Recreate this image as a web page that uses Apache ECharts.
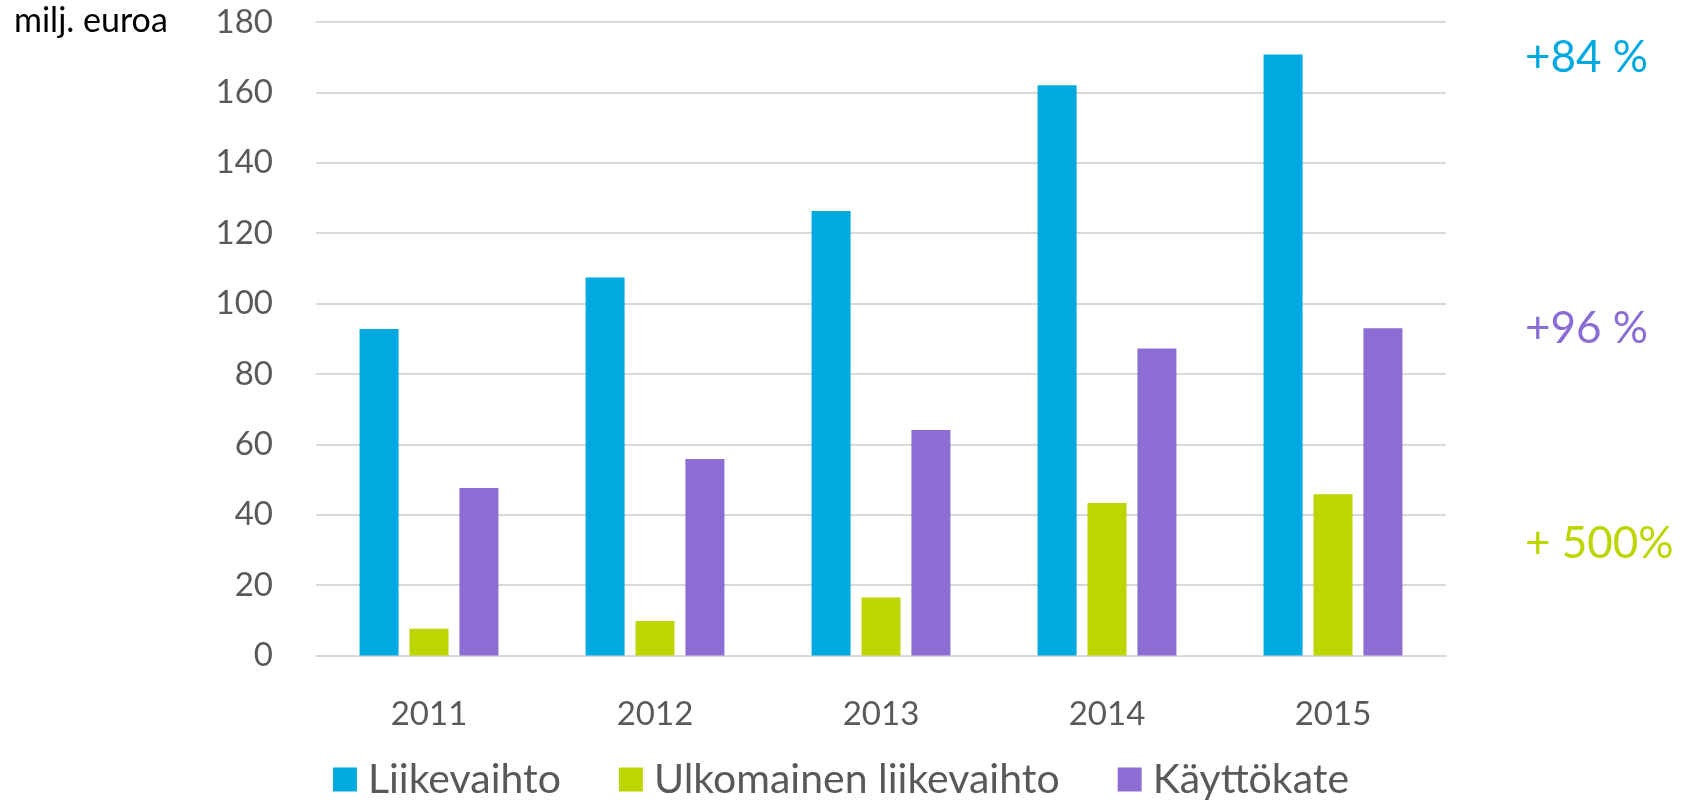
<!DOCTYPE html>
<html>
<head>
<meta charset="utf-8">
<script src="https://cdn.jsdelivr.net/npm/echarts@6/dist/echarts.min.js"></script>
<style>
  html, body { margin: 0; padding: 0; background: #fff; }
  #chart { width: 1682px; height: 807px; }
</style>
</head>
<body>
<div id="chart"></div>
<script>
const years = ["2011", "2012", "2013", "2014", "2015"];
const liikevaihto = [92.8, 107.4, 126.3, 162, 170.8];
const ulkomainen = [7.6, 9.8, 16.5, 43.3, 45.8];
const kayttokate = [47.6, 55.8, 64.1, 87.2, 93];
const seriesNames = ["Liikevaihto", "Ulkomainen liikevaihto", "Käyttökate"];
const colors = ["#00a9e0", "#bed600", "#8c6dd3"];
const growthLabels = ["+84 %", "+96 %", "+ 500%"];
const unitLabel = "milj. euroa";

const font = "Lato, 'Open Sans', sans-serif";
const chart = echarts.init(document.getElementById("chart"));

chart.setOption({
  animation: false,
  backgroundColor: "#fff",
  color: colors,
  grid: { left: 316, right: 236, top: 22, bottom: 151.5 },
  legend: {
    bottom: 2,
    left: "center",
    itemWidth: 24,
    itemHeight: 24,
    itemGap: 58,
    icon: "rect",
    textStyle: { color: "#595959", fontSize: 41, fontFamily: font, padding: [0, 0, 0, 6] },
    data: seriesNames,
  },
  xAxis: {
    type: "category",
    data: years,
    axisLine: { lineStyle: { color: "#d9d9d9", width: 2 } },
    axisTick: { show: false },
    axisLabel: { color: "#595959", fontSize: 33, fontFamily: font, margin: 42 },
  },
  yAxis: {
    type: "value",
    min: 0,
    max: 180,
    interval: 20,
    axisLine: { show: false },
    axisTick: { show: false },
    axisLabel: { color: "#595959", fontSize: 33, fontFamily: font, margin: 43 },
    splitLine: { lineStyle: { color: "#d9d9d9", width: 2 } },
  },
  graphic: [
    {
      type: "text", left: 14, top: 4,
      style: { text: unitLabel, fill: "#000", fontSize: 34, fontFamily: font },
    },
    {
      type: "text", left: 1525, top: 36,
      style: { text: growthLabels[0], fill: colors[0], fontSize: 44, fontFamily: font },
    },
    {
      type: "text", left: 1525, top: 307,
      style: { text: growthLabels[1], fill: colors[2], fontSize: 44, fontFamily: font },
    },
    {
      type: "text", left: 1525, top: 522,
      style: { text: growthLabels[2], fill: colors[1], fontSize: 44, fontFamily: font },
    },
  ],
  series: [
    { name: seriesNames[0], type: "bar", data: liikevaihto, barWidth: 39, barGap: "28%" },
    { name: seriesNames[1], type: "bar", data: ulkomainen, barWidth: 39, barGap: "28%" },
    { name: seriesNames[2], type: "bar", data: kayttokate, barWidth: 39, barGap: "28%" },
  ],
});
</script>
</body>
</html>
